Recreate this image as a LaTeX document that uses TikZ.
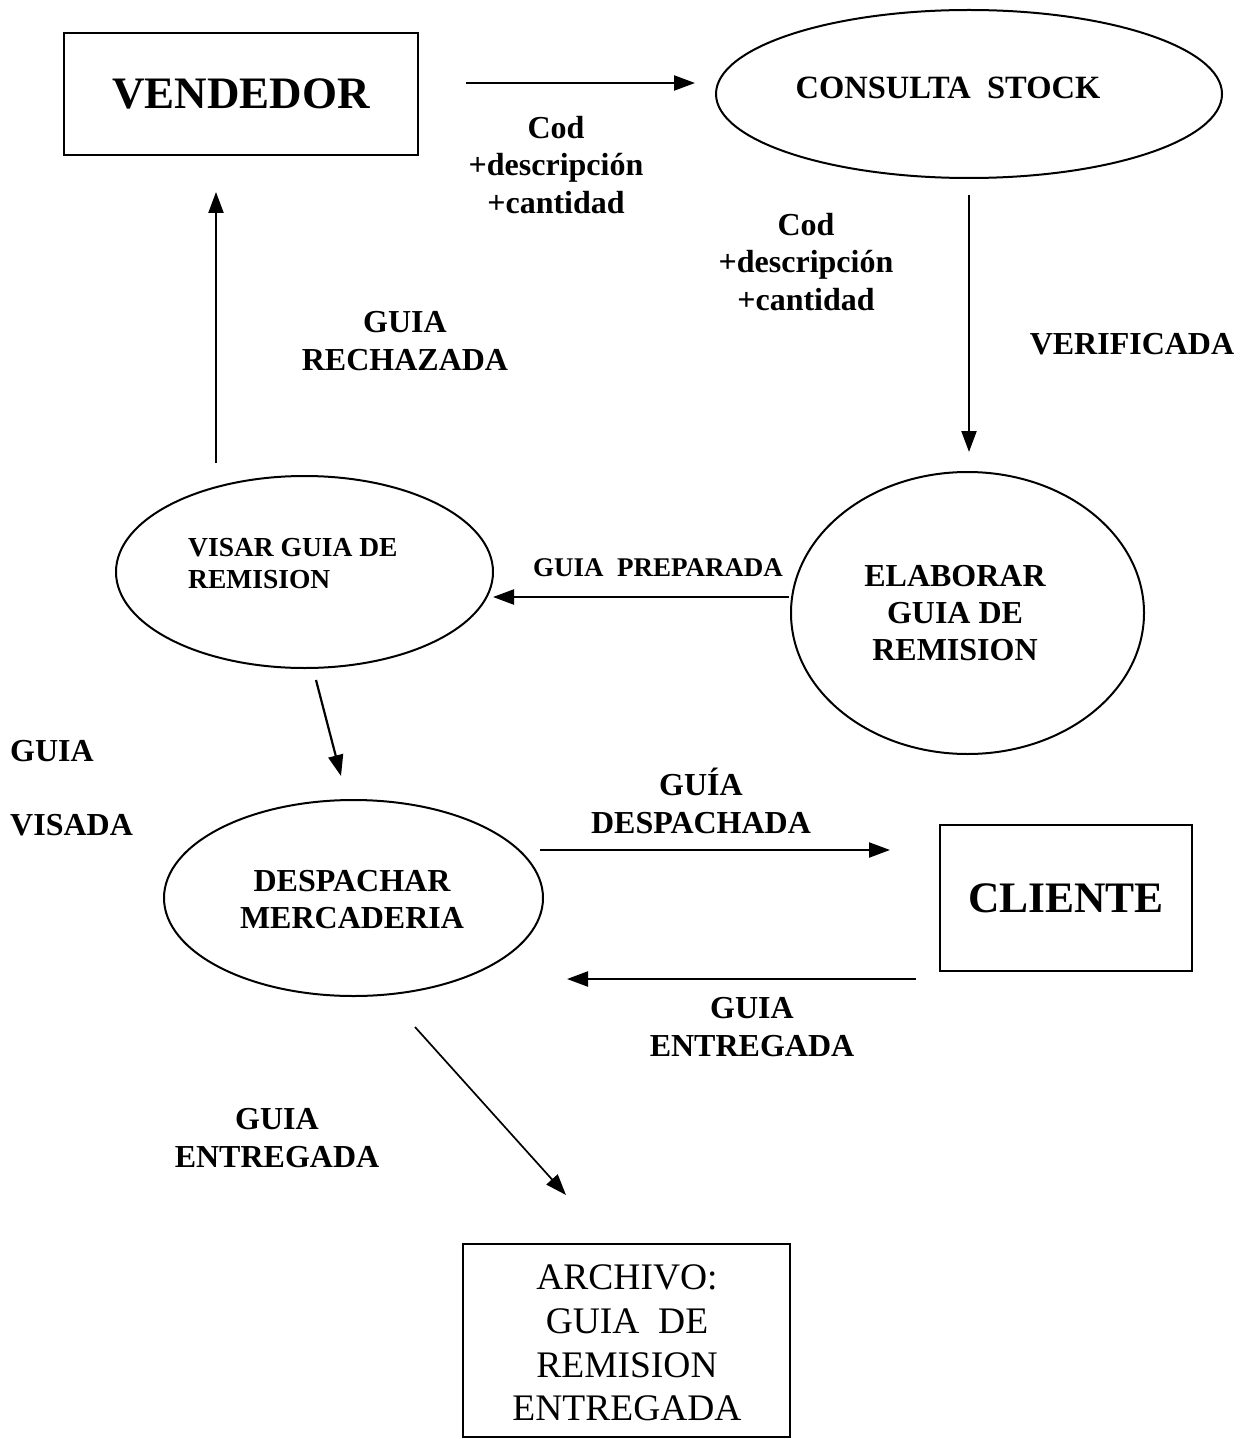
\documentclass[tikz,border=0pt]{standalone}
\usepackage{fontspec}
\setmainfont{Liberation Serif}
\usetikzlibrary{arrows.meta,shapes.geometric}

\newcommand{\fs}[2]{\fontsize{#1}{#2}\selectfont}

\begin{document}
\begin{tikzpicture}[x=1pt,y=-1pt,
  shapeline/.style={draw=black,line width=2pt,inner sep=0pt,outer sep=0pt},
  procbox/.style={shapeline,rectangle},
  proc/.style={shapeline,ellipse},
  lbl/.style={inner sep=0pt,align=center,font=\bfseries\fs{32}{37.5}},
  flow/.style={line width=2.2pt,-{Triangle[length=21pt,width=15pt]}}]

\useasboundingbox (0,0) rectangle (1247,1439);

% external entities and data store
\node[procbox,minimum width=354pt,minimum height=122pt,font=\bfseries\fs{45}{50}]
  (vend) at (241,94) {VENDEDOR};
\node[procbox,minimum width=252pt,minimum height=146pt,font=\bfseries\fs{43.5}{48}]
  (cli) at (1066,898) {CLIENTE};
\node[procbox,minimum width=327pt,minimum height=193pt] (arch) at (626.5,1340.5) {};
\node[inner sep=0pt,align=center,font=\fs{37.5}{43.5}] (archt) at (627,1343)
  {ARCHIVO:\\GUIA\ \ DE\\REMISION\\ENTREGADA};

% processes
\node[proc,minimum width=506pt,minimum height=168pt] (cs) at (969,94) {};
\node[inner sep=0pt,font=\bfseries\fs{32.5}{38}] (cst) at (948,88) {CONSULTA\ \ STOCK};

\node[proc,minimum width=353pt,minimum height=282pt] (elab) at (967.5,613) {};
\node[lbl,font=\bfseries\fs{32}{37}] (elabt) at (955,613) {ELABORAR\\GUIA DE\\REMISION};

\node[proc,minimum width=377pt,minimum height=192pt] (visar) at (304.5,572) {};
\node[inner sep=0pt,anchor=west,align=left,font=\bfseries\fs{27.5}{32}] (visart) at (188,564)
  {VISAR GUIA DE\\REMISION};

\node[proc,minimum width=379pt,minimum height=196pt] (desp) at (353.5,898) {};
\node[lbl,font=\bfseries\fs{32}{37}] (despt) at (352,900) {DESPACHAR\\MERCADERIA};

% data flows
\draw[flow] ([xshift=48pt,yshift=11pt]vend.east) -- ([xshift=-21pt,yshift=11pt]cs.west);
\draw[flow] ([yshift=-17pt]cs.south) -- ([xshift=1.5pt,yshift=20pt]elab.north);
\draw[flow] ([xshift=-2pt,yshift=16pt]elab.west) -- ([yshift=-25pt]visar.east);
\draw[flow] ([xshift=-88.5pt,yshift=13pt]visar.north) -- ([xshift=-25pt,yshift=-37pt]vend.south);
\draw[flow] ([xshift=11.5pt,yshift=-12pt]visar.south) -- ([xshift=-12.5pt,yshift=24pt]desp.north);
\draw[flow] ([xshift=-3pt,yshift=48pt]desp.east) -- ([xshift=-50pt,yshift=48pt]cli.west);
\draw[flow] ([xshift=-24pt,yshift=-8pt]cli.south west) -- ([xshift=24pt,yshift=-81pt]desp.east);
\draw[flow,line width=1.7pt] ([xshift=61.5pt,yshift=-31pt]desp.south) -- ([xshift=-60.5pt,yshift=49pt]arch.north);

% flow labels
\node[lbl] (l1) at (556,165) {Cod\\+descripción\\+cantidad};
\node[lbl] (l2) at (806,262) {Cod\\+descripción\\+cantidad};
\node[lbl] (verif) at (1132,344) {VERIFICADA};
\node[lbl,font=\bfseries\fs{27}{32}] (prep) at (658,568) {GUIA\ \ PREPARADA};
\node[lbl] (rech) at (405,341) {GUIA\\RECHAZADA};
\node[lbl,anchor=west] (vis1) at (10,751) {GUIA};
\node[lbl,anchor=west] (vis2) at (10,825) {VISADA};
\node[lbl] (desph) at (701,801) {GUÍA\\DESPACHADA};
\node[lbl] (ent1) at (752,1027) {GUIA\\ENTREGADA};
\node[lbl] (ent2) at (277,1138) {GUIA\\ENTREGADA};

\end{tikzpicture}
\end{document}
